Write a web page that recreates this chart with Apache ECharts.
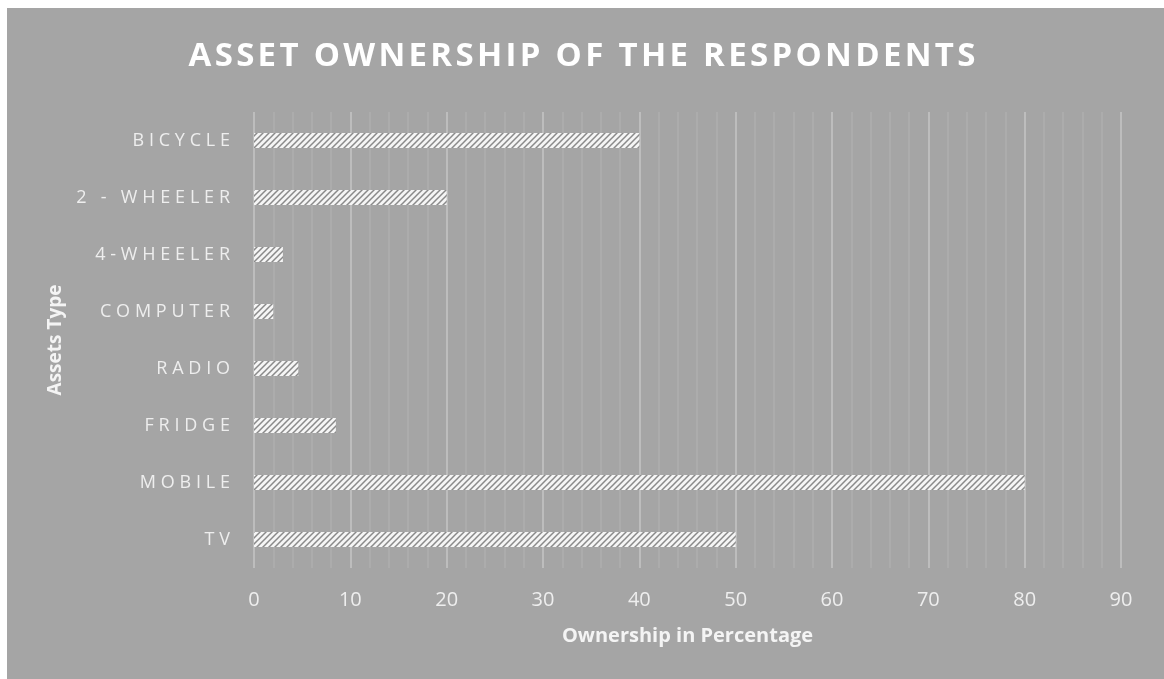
<!DOCTYPE html>
<html>
<head>
<meta charset="utf-8">
<script src="https://cdn.jsdelivr.net/npm/echarts@6/dist/echarts.min.js"></script>
<style>
html,body{margin:0;padding:0;background:#ffffff;}
#c{width:1164px;height:679px;}
</style>
</head>
<body>
<div id="c"></div>
<script>
const titleText = 'ASSET OWNERSHIP OF THE RESPONDENTS';
const categories = ['TV', 'MOBILE', 'FRIDGE', 'RADIO', 'COMPUTER', '4-WHEELER', '2 - WHEELER', 'BICYCLE'];
const ownership = [50, 80, 8.5, 4.6, 2, 3, 20, 40];
const xTicks = [0, 10, 20, 30, 40, 50, 60, 70, 80, 90];
const xName = 'Ownership in Percentage';
const yName = 'Assets Type';

function spaced(s, sp) {
  return s.split('').join(sp);
}

// hatch pattern
const pc = document.createElement('canvas');
pc.width = 6; pc.height = 6;
const g = pc.getContext('2d');
g.fillStyle = '#f5f5f5';
g.fillRect(0, 0, 6, 6);
g.strokeStyle = '#8a8a8a';
g.lineWidth = 1.5;
g.beginPath();
g.moveTo(-1, 7); g.lineTo(7, -1);
g.moveTo(-1, 1); g.lineTo(1, -1);
g.moveTo(5, 7); g.lineTo(7, 5);
g.stroke();

const chart = echarts.init(document.getElementById('c'), null, {renderer: 'canvas'});
chart.setOption({
  backgroundColor: '#a5a5a5',
  animation: false,
  graphic: [
    {type: 'rect', shape: {x: 0, y: 0, width: 7, height: 679}, style: {fill: '#ffffff'}},
    {type: 'rect', shape: {x: 0, y: 0, width: 1164, height: 8}, style: {fill: '#ffffff'}}
  ],
  title: {
    text: spaced(titleText, '\u200A'),
    left: 'center',
    top: 35,
    textStyle: {
      color: '#ffffff',
      fontFamily: 'Open Sans',
      fontWeight: 'bold',
      fontSize: 33
    }
  },
  grid: {left: 254, right: 43, top: 112, bottom: 111, containLabel: false},
  xAxis: {
    type: 'value',
    min: 0,
    max: 90,
    interval: 10,
    name: xName,
    nameLocation: 'middle',
    nameGap: 58,
    nameTextStyle: {color: '#f4f4f4', fontFamily: 'Open Sans', fontWeight: 'bold', fontSize: 20},
    axisLine: {show: false},
    axisTick: {show: false},
    axisLabel: {
      color: '#eeeeee', fontFamily: 'Open Sans', fontSize: 20, margin: 22,
      formatter: function (v) { return xTicks.indexOf(v) >= 0 ? String(v) : ''; }
    },
    splitLine: {show: true, lineStyle: {color: '#c6c6c6', width: 1.5}},
    minorTick: {show: false, splitNumber: 5},
    minorSplitLine: {show: true, lineStyle: {color: '#afafaf', width: 1.5}}
  },
  yAxis: {
    type: 'category',
    data: categories,
    name: yName,
    nameLocation: 'middle',
    nameGap: 186,
    nameRotate: 90,
    nameTextStyle: {color: '#f4f4f4', fontFamily: 'Open Sans', fontWeight: 'bold', fontSize: 19},
    axisLine: {show: false},
    axisTick: {show: false},
    axisLabel: {
      color: '#eeeeee', fontFamily: 'Open Sans', fontSize: 18, margin: 24,
      formatter: function (v) { return spaced(v, '\u2009\u200A'); }
    },
    splitLine: {show: false}
  },
  series: [{
    type: 'bar',
    data: ownership,
    barWidth: 15,
    itemStyle: {color: {image: pc, repeat: 'repeat'}}
  }]
});
</script>
</body>
</html>
